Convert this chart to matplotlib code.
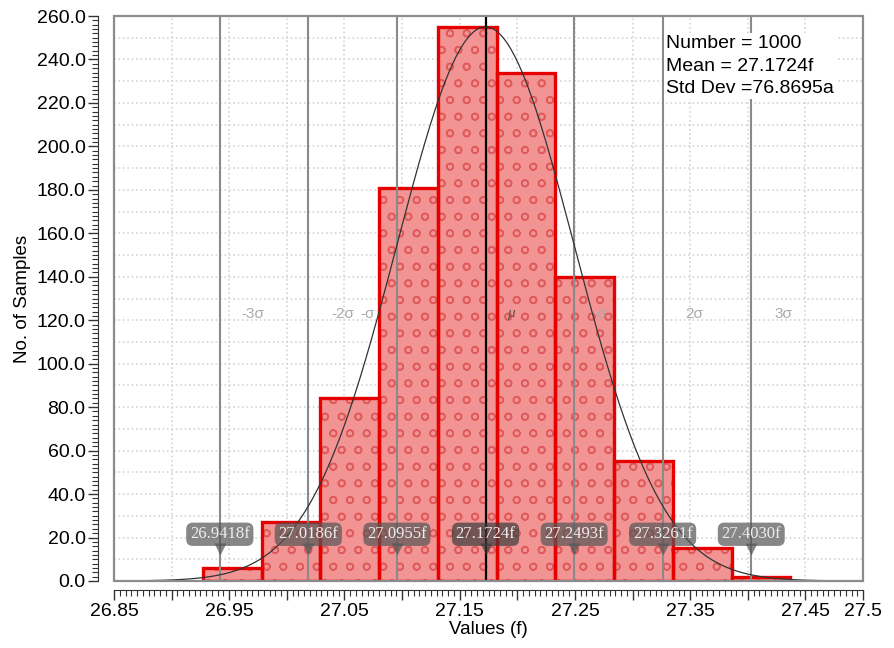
import numpy as np
import matplotlib
matplotlib.use('Agg')
import matplotlib.pyplot as plt
from matplotlib.ticker import MultipleLocator
from matplotlib.patches import Rectangle

plt.rcParams['font.family'] = ['Liberation Sans', 'DejaVu Sans']
plt.rcParams['hatch.linewidth'] = 1.1
plt.rcParams['hatch.color'] = '#e05a5a'

# histogram
bin_edges = [26.927, 26.978, 27.029, 27.080, 27.131, 27.182,
             27.233, 27.284, 27.335, 27.386, 27.437]
counts = [6, 27, 84, 181, 255, 234, 140, 55, 15, 2]

n_samples = 1000
mean = 27.1724
std = 0.0768695
curve_peak = 255

# sigma markers
sigma_pos = [26.9418, 27.0186, 27.0955, 27.1724, 27.2493, 27.3261, 27.4030]
sigma_tags = ['26.9418f', '27.0186f', '27.0955f', '27.1724f',
              '27.2493f', '27.3261f', '27.4030f']
sigma_names = ['-3σ', '-2σ', '-σ', 'μ', 'σ', '2σ', '3σ']
sigma_name_x = [26.9707, 27.0488, 27.0696, 27.1946, 27.2727, 27.3535, 27.4307]

x_ticks = [26.85, 26.90, 26.95, 27.00, 27.05, 27.10, 27.15,
           27.20, 27.25, 27.30, 27.35, 27.40, 27.45, 27.50]
x_tick_labels = ['26.85', '', '26.95', '', '27.05', '', '27.15',
                 '', '27.25', '', '27.35', '', '27.45', '27.5']
y_ticks = [0, 20, 40, 60, 80, 100, 120, 140, 160, 180, 200, 220, 240, 260]

fig = plt.figure(figsize=(8.95, 6.48), dpi=100)
ax = fig.add_axes([0.1274, 0.1034, 0.8369, 0.8719])
ax.set_xlim(26.85, 27.5)
ax.set_ylim(0, 260)

lefts = bin_edges[:-1]
widths = np.diff(bin_edges)
ax.bar(lefts, counts, width=widths, align='edge', color='#f29494',
       linewidth=0, zorder=2)
ax.bar(lefts, counts, width=widths, align='edge', facecolor='none',
       hatch='o', linewidth=0, zorder=2.1)
ax.bar(lefts, counts, width=widths, align='edge', facecolor='none',
       edgecolor='#e60000', linewidth=2.4, zorder=3)

# fitted normal curve
xs = np.linspace(mean - 4 * std, mean + 4 * std, 400)
ax.plot(xs, curve_peak * np.exp(-0.5 * ((xs - mean) / std) ** 2),
        color='#333333', lw=0.9, zorder=5)

for i, xp in enumerate(sigma_pos):
    if i == 3:
        ax.axvline(xp, color='black', lw=1.6, zorder=4)
    else:
        ax.axvline(xp, color='#8a8a8a', lw=1.5, zorder=4)

for xn, name in zip(sigma_name_x, sigma_names):
    if name == 'μ':
        ax.text(xn, 123, name, ha='center', va='center', fontsize=11,
                style='italic', color='#555555', zorder=6,
                family=['Liberation Serif', 'DejaVu Serif'])
    else:
        ax.text(xn, 123, name, ha='center', va='center', fontsize=11,
                color='#aaaaaa', zorder=6)

for i, (xp, tag) in enumerate(zip(sigma_pos, sigma_tags)):
    fc = '#3c3c3c' if i == 3 else '#555555'
    ax.plot(xp, 14.5, marker='v', ms=8, color=fc, alpha=0.7, mec='none',
            zorder=7)
    ax.text(xp, 21.5, tag, ha='center', va='center', fontsize=12,
            color='#eeeeee', family=['Liberation Serif', 'DejaVu Serif'],
            zorder=8,
            bbox=dict(boxstyle='round,pad=0.22,rounding_size=0.4',
                      fc=fc, ec='none', alpha=0.7))

ax.text(0.737, 0.967, 'Number = %d\nMean = 27.1724f\nStd Dev =76.8695a' % n_samples,
        transform=ax.transAxes, ha='left', va='top', fontsize=14,
        linespacing=1.45, zorder=9,
        bbox=dict(boxstyle='square,pad=0.1', fc='white', ec='none'))

# grid
ax.xaxis.set_minor_locator(MultipleLocator(0.005))
ax.yaxis.set_minor_locator(MultipleLocator(2))
ax.set_xticks(x_ticks)
ax.set_xticklabels(x_tick_labels)
ax.set_yticks(y_ticks)
ax.set_yticklabels(['%.1f' % v for v in y_ticks])
ax.grid(True, which='major', axis='x', color='#d4d4d4', ls=':', lw=1.2, zorder=0)
for yv in range(10, 260, 10):
    ax.axhline(yv, color='#d4d4d4', ls=':', lw=1.2, zorder=0)

# offset axes and grey frame
for s in ['top', 'right']:
    ax.spines[s].set_visible(False)
ax.spines['left'].set_position(('outward', 11.5))
ax.spines['bottom'].set_position(('outward', 6.5))
ax.spines['left'].set_color('#333333')
ax.spines['bottom'].set_color('#333333')
ax.add_patch(Rectangle((0, 0), 1, 1, transform=ax.transAxes, fill=False,
                       edgecolor='#8c8c8c', lw=1.6, clip_on=False, zorder=10))

ax.tick_params(axis='both', which='major', labelsize=14, length=7,
               width=1.0, color='#333333', pad=2)
ax.tick_params(axis='both', which='minor', length=4, width=0.8,
               color='#333333')

ax.set_xlabel('Values (f)', fontsize=13.5, labelpad=1)
ax.set_ylabel('No. of Samples', fontsize=13.5, labelpad=4)

fig.savefig('out.png', dpi=100)
